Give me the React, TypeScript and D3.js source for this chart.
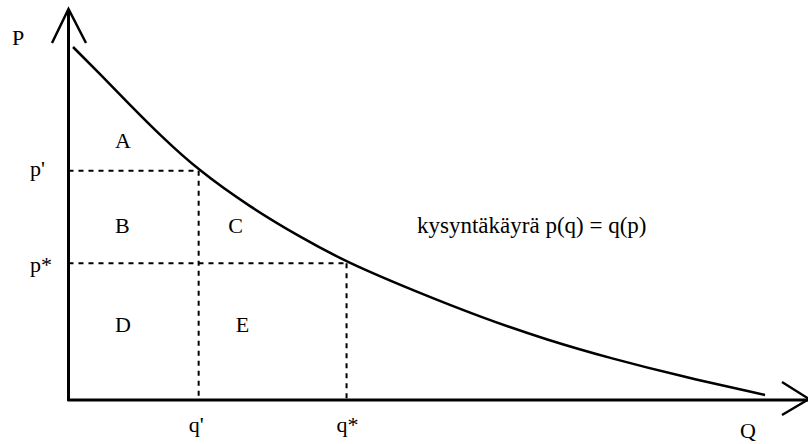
import React from "react";
import * as d3 from "d3";

// demand curve samples (q, p) in arbitrary units 0..100
const curveQ = [0.61, 4.26, 8.32, 12.37, 17.51, 24.54, 31.31, 37.53, 47.13, 56.06, 64.7, 73.63, 82.69, 94.19];
const curveP = [90.28, 83.38, 75.45, 67.77, 58.82, 49.36, 41.69, 35.29, 27.62, 20.97, 15.35, 10.49, 6.14, 1.28];

const qMarks = [17.6, 37.6]; // q', q*
const pMarks = [58.6, 35.0]; // p', p*
const qLabels = ["q'", "q*"];
const pLabels = ["p'", "p*"];

const areaLabels = ["A", "B", "C", "D", "E"];
const areaQ = [6.3, 6.3, 21.6, 6.3, 22.6];
const areaP = [64.5, 42.7, 42.7, 17.4, 17.4];

const curveLabel = "kysyntäkäyrä p(q) = q(p)";

const W = 808;
const H = 444;
const FONT = "'Liberation Serif', serif";

export default function App() {
  const x = d3.scaleLinear().domain([0, 100]).range([68.5, 808]);
  const y = d3.scaleLinear().domain([0, 100]).range([400, 9]);

  const pts: [number, number][] = curveQ.map((q, i) => [q, curveP[i]]);
  const line = d3
    .line<[number, number]>()
    .x((d) => x(d[0]))
    .y((d) => y(d[1]))
    .curve(d3.curveBasis);

  const x0 = x(0);
  const y0 = y(0);
  const ts = (size: number) => ({ fontFamily: FONT, fontSize: size + "px" });

  return (
    <svg
      width={W}
      height={H}
      style={{ position: "absolute", left: 0, top: 0, background: "#fff" }}
    >
      <line x1={x0} y1={y0 + 1} x2={x0} y2={9} stroke="#000" strokeWidth={3} />
      <polyline points={`52,43 ${x0},9 86,43`} fill="none" stroke="#000" strokeWidth={2.5} />
      <line x1={x0 - 1} y1={y0} x2={808} y2={y0} stroke="#000" strokeWidth={3} />
      <polyline points={`782,382 809,399 782,415`} fill="none" stroke="#000" strokeWidth={2.5} />

      {pMarks.map((p, i) => (
        <line key={"h" + i} x1={x0} y1={y(p)} x2={x(qMarks[i])} y2={y(p)}
          stroke="#000" strokeWidth={2} strokeDasharray="5,5" />
      ))}
      {qMarks.map((q, i) => (
        <line key={"v" + i} x1={x(q)} y1={y(pMarks[i])} x2={x(q)} y2={y0}
          stroke="#000" strokeWidth={2} strokeDasharray="5,5" />
      ))}

      <path d={line(pts) || ""} fill="none" stroke="#000" strokeWidth={2.5} />

      <text x={12} y={45} style={ts(22)}>P</text>
      <text x={740} y={438} style={ts(22)}>Q</text>
      {pLabels.map((t, i) => (
        <text key={t} x={30} y={y(pMarks[i]) + (i === 0 ? 5 : 9)} style={ts(22)}>{t}</text>
      ))}
      {qLabels.map((t, i) => (
        <text key={t} x={x(qMarks[i]) - 10} y={432} style={ts(22)}>{t}</text>
      ))}
      {areaLabels.map((t, i) => (
        <text key={t} x={x(areaQ[i])} y={y(areaP[i])} style={ts(22)}>{t}</text>
      ))}
      <text x={417} y={233} style={ts(23)}>{curveLabel}</text>
    </svg>
  );
}
